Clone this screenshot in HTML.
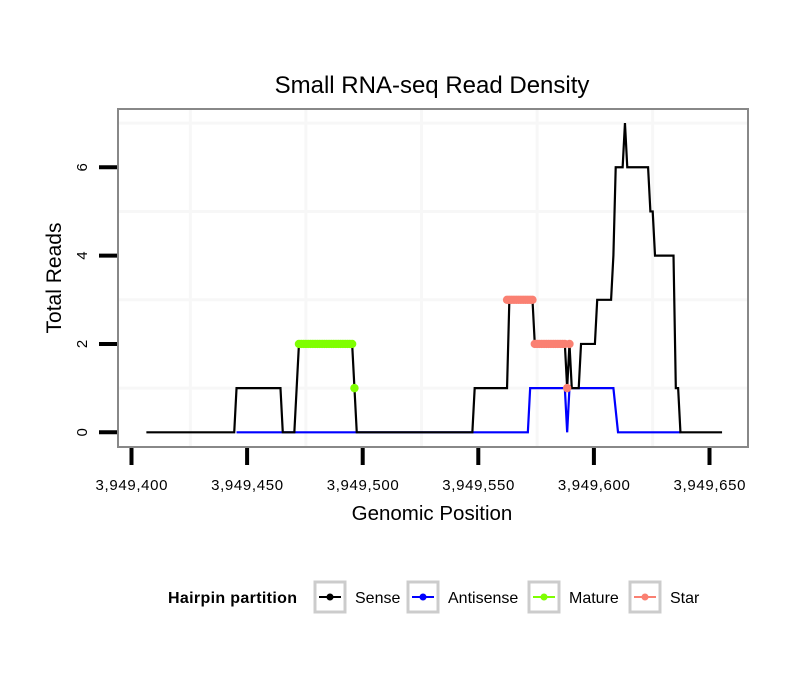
<!DOCTYPE html>
<html><head><meta charset="utf-8"><style>
body{margin:0;background:#fff;}
svg{display:block;font-family:"Liberation Sans",Arial,sans-serif;}
</style></head><body>
<svg id="chart" width="810" height="690" viewBox="0 0 810 690" xmlns="http://www.w3.org/2000/svg">
<rect width="810" height="690" fill="#fff"/>
<text x="432" y="93" font-size="24" text-anchor="middle">Small RNA-seq Read Density</text>
<rect x="118" y="109" width="630" height="338" fill="#fff"/>
<g id="grid"></g>
<g id="series"></g>
<rect x="118" y="109" width="630" height="338" fill="none" stroke="#888" stroke-width="2"/>
<g id="axes"></g>
<text x="432" y="520" font-size="20.5" text-anchor="middle">Genomic Position</text>
<text transform="translate(61,278) rotate(-90)" font-size="21" text-anchor="middle">Total Reads</text>
<g>
<text x="168" y="603" font-size="16" font-weight="bold" textLength="129">Hairpin partition</text>
<g id="legend"></g>
</g>
</svg>
<script>
const xTicks=[3949400,3949450,3949500,3949550,3949600,3949650];
const yTicks=[0,2,4,6];
const xGrid=[3949425,3949475,3949525,3949575,3949625];
const yGrid=[1,3,5,7];
const senseX=[3949406,3949444,3949445,3949464,3949465,3949470,3949471,3949472,3949495,3949496,3949497,3949547,3949548,3949562,3949563,3949573,3949574,3949586,3949587,3949588,3949589,3949590,3949593,3949594,3949600,3949601,3949607,3949608,3949609,3949612,3949613,3949614,3949623,3949624,3949625,3949626,3949634,3949635,3949636,3949637,3949655];
const senseY=[0,0,1,1,0,0,1,2,2,1,0,0,1,1,3,3,2,2,2,1,2,1,1,2,2,3,3,4,6,6,7,6,6,5,5,4,4,1,1,0,0];
const antiX=[3949445,3949571,3949572,3949587,3949588,3949589,3949608,3949610,3949637];
const antiY=[0,0,1,1,0,1,1,0,0];
const matureX=[3949472,3949473,3949474,3949475,3949476,3949477,3949478,3949479,3949480,3949481,3949482,3949483,3949484,3949485,3949486,3949487,3949488,3949489,3949490,3949491,3949492,3949493,3949494,3949495,3949496];
const matureY=[2,2,2,2,2,2,2,2,2,2,2,2,2,2,2,2,2,2,2,2,2,2,2,2,1];
const starX=[3949562,3949563,3949564,3949565,3949566,3949567,3949568,3949569,3949570,3949571,3949572,3949573,3949574,3949575,3949576,3949577,3949578,3949579,3949580,3949581,3949582,3949583,3949584,3949585,3949586,3949587,3949588,3949589];
const starY=[3,3,3,3,3,3,3,3,3,3,3,3,2,2,2,2,2,2,2,2,2,2,2,2,2,2,1,2];
const legendLabels=["Sense","Antisense","Mature","Star"];
const legendColors=["#000000","#0000ff","#7fff00","#fa8072"];

const NS="http://www.w3.org/2000/svg";
function xs(v){return 132.5+(v-3949400)*2.312;}
function ys(v){return 432.3-v*44.17;}
function mk(tag,attrs,parent){const e=document.createElementNS(NS,tag);for(const k in attrs)e.setAttribute(k,attrs[k]);parent.appendChild(e);return e;}
const grid=document.getElementById('grid'),series=document.getElementById('series'),axes=document.getElementById('axes'),legend=document.getElementById('legend');
xGrid.forEach(v=>{const l=mk('line',{x1:xs(v),x2:xs(v),y1:110,y2:446,stroke:'#f7f7f7','stroke-width':3},grid);

});
yGrid.forEach(v=>{const l=mk('line',{x1:119,x2:747,y1:ys(v),y2:ys(v),stroke:'#f7f7f7','stroke-width':3},grid);

});
function line(X,Y,color,name){const d=X.map((x,i)=>(i?'L':'M')+xs(x).toFixed(2)+','+ys(Y[i]).toFixed(2)).join('');
const p=mk('path',{d:d,fill:'none',stroke:color,'stroke-width':2.2,'stroke-linejoin':'miter'},series);

}
function pts(X,Y,color,name){X.forEach((x,i)=>{const c=mk('circle',{cx:xs(x),cy:ys(Y[i]),r:4.2,fill:color},series);

});}
line(antiX,antiY,'#0000ff','antisense-line');
line(senseX,senseY,'#000000','sense-line');
pts(matureX,matureY,'#7fff00','mature-point');
pts(starX,starY,'#fa8072','star-point');
xTicks.forEach(v=>{const t=mk('line',{x1:xs(v)-1,x2:xs(v)-1,y1:448,y2:465,stroke:'#000','stroke-width':4},axes);


const tx=mk('text',{x:xs(v)-1,y:490,'font-size':15,'text-anchor':'middle',textLength:72},axes);tx.textContent=v.toLocaleString('en-US');

});
yTicks.forEach(v=>{const t=mk('line',{x1:99,x2:117,y1:ys(v),y2:ys(v),stroke:'#000','stroke-width':4},axes);


const tx=mk('text',{x:0,y:0,'font-size':15,'text-anchor':'middle',transform:'translate(87,'+ys(v)+') rotate(-90)'},axes);tx.textContent=v;

});
const lx=[315,408,529,630];
legendLabels.forEach((lab,i)=>{const x=lx[i];
const g=mk('g',{},legend);


mk('rect',{x:x,y:582,width:30,height:30,fill:'#fff',stroke:'#ccc','stroke-width':3},g);
mk('line',{x1:x+4,x2:x+26,y1:597,y2:597,stroke:legendColors[i],'stroke-width':2},g);
mk('circle',{cx:x+15,cy:597,r:3.5,fill:legendColors[i]},g);
const t=mk('text',{x:x+40,y:603,'font-size':16},g);t.textContent=lab;});
</script>
</body></html>
